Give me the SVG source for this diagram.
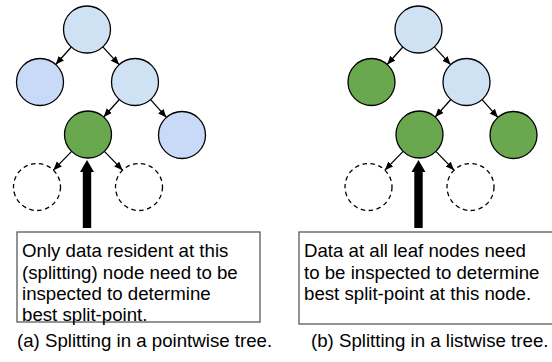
<svg xmlns="http://www.w3.org/2000/svg" width="552" height="362" viewBox="0 0 552 362">
  <style>
    .node { stroke: #000; stroke-width: 1.3; }
    .inner { fill: #cfe2f3; }
    .leaf { fill: #c9daf8; }
    .active { fill: #6aa84f; }
    .empty { fill: none; stroke: #000; stroke-width: 1.3; stroke-dasharray: 4.5 3.5; }
    .edge { stroke: #000; stroke-width: 1.3; fill: none; marker-end: url(#head); }
    .pointer { fill: #000; }
    .note { fill: #fff; stroke: #595959; stroke-width: 1.3; }
    .txt { font-family: "Liberation Sans", Arial, sans-serif; font-size: 18.67px; fill: #000; }
  </style>
  <defs>
    <marker id="head" markerUnits="userSpaceOnUse" markerWidth="9" markerHeight="8" refX="8.5" refY="3.5" orient="auto">
      <path d="M0,0 L8.5,3.5 L0,7 z" fill="#000"/>
    </marker>
  </defs>

  <!-- (a) pointwise tree -->
  <g id="pointwise">
    <g id="connectors-a">
      <line class="edge" x1="71.32" y1="47.01" x2="55.68" y2="64.49"/>
      <line class="edge" x1="102.86" y1="46.84" x2="119.14" y2="64.66"/>
      <line class="edge" x1="119.32" y1="99.51" x2="103.68" y2="116.99"/>
      <line class="edge" x1="150.59" y1="99.58" x2="166.41" y2="117.42"/>
      <line class="edge" x1="71.62" y1="151.36" x2="53.38" y2="170.14"/>
      <line class="edge" x1="104.38" y1="151.36" x2="122.62" y2="170.14"/>
      <polygon class="pointer" points="82.8,228 82.8,172 80,172 87,160 94,172 91.2,172 91.2,228"/>
    </g>
    <g id="a-root"><circle class="node inner" cx="87" cy="29.5" r="23.5"/></g>
    <g id="a-left"><circle class="node leaf" cx="40" cy="82" r="23.5"/></g>
    <g id="a-right"><circle class="node inner" cx="135" cy="82" r="23.5"/></g>
    <g id="a-split"><circle class="node active" cx="88" cy="134.5" r="23.5"/></g>
    <g id="a-right-leaf"><circle class="node leaf" cx="182" cy="135" r="23.5"/></g>
    <g id="a-new-left"><circle class="empty" cx="37" cy="187" r="23.5"/></g>
    <g id="a-new-right"><circle class="empty" cx="139" cy="187" r="23.5"/></g>
    <g id="a-note">
      <rect class="note" x="17" y="232" width="243" height="90"/>
      <text class="txt" x="22" y="257">Only data resident at this</text>
      <text class="txt" x="22" y="278.5">(splitting) node need to be</text>
      <text class="txt" x="22" y="300">inspected to determine</text>
      <text class="txt" x="22" y="321">best split-point.</text>
    </g>
    <text class="txt" x="17" y="347">(a) Splitting in a pointwise tree.</text>
  </g>

  <!-- (b) listwise tree -->
  <g id="listwise">
    <g id="connectors-b" transform="translate(331.5,0)">
      <line class="edge" x1="71.32" y1="47.01" x2="55.68" y2="64.49"/>
      <line class="edge" x1="102.86" y1="46.84" x2="119.14" y2="64.66"/>
      <line class="edge" x1="119.32" y1="99.51" x2="103.68" y2="116.99"/>
      <line class="edge" x1="150.59" y1="99.58" x2="166.41" y2="117.42"/>
      <line class="edge" x1="71.62" y1="151.36" x2="53.38" y2="170.14"/>
      <line class="edge" x1="104.38" y1="151.36" x2="122.62" y2="170.14"/>
      <polygon class="pointer" points="82.8,228 82.8,172 80,172 87,160 94,172 91.2,172 91.2,228"/>
    </g>
    <g id="b-root"><circle class="node inner" cx="418.5" cy="29.5" r="23.5"/></g>
    <g id="b-left"><circle class="node active" cx="371.5" cy="82" r="23.5"/></g>
    <g id="b-right"><circle class="node inner" cx="466.5" cy="82" r="23.5"/></g>
    <g id="b-split"><circle class="node active" cx="419.5" cy="134.5" r="23.5"/></g>
    <g id="b-right-leaf"><circle class="node active" cx="513.5" cy="135" r="23.5"/></g>
    <g id="b-new-left"><circle class="empty" cx="368.5" cy="187" r="23.5"/></g>
    <g id="b-new-right"><circle class="empty" cx="470.5" cy="187" r="23.5"/></g>
    <g id="b-note">
      <rect class="note" x="299" y="232" width="260" height="92"/>
      <text class="txt" x="304" y="257">Data at all leaf nodes need</text>
      <text class="txt" x="304" y="278.5">to be inspected to determine</text>
      <text class="txt" x="304" y="300">best split-point at this node.</text>
    </g>
    <text class="txt" x="311" y="347">(b) Splitting in a listwise tree.</text>
  </g>
</svg>
